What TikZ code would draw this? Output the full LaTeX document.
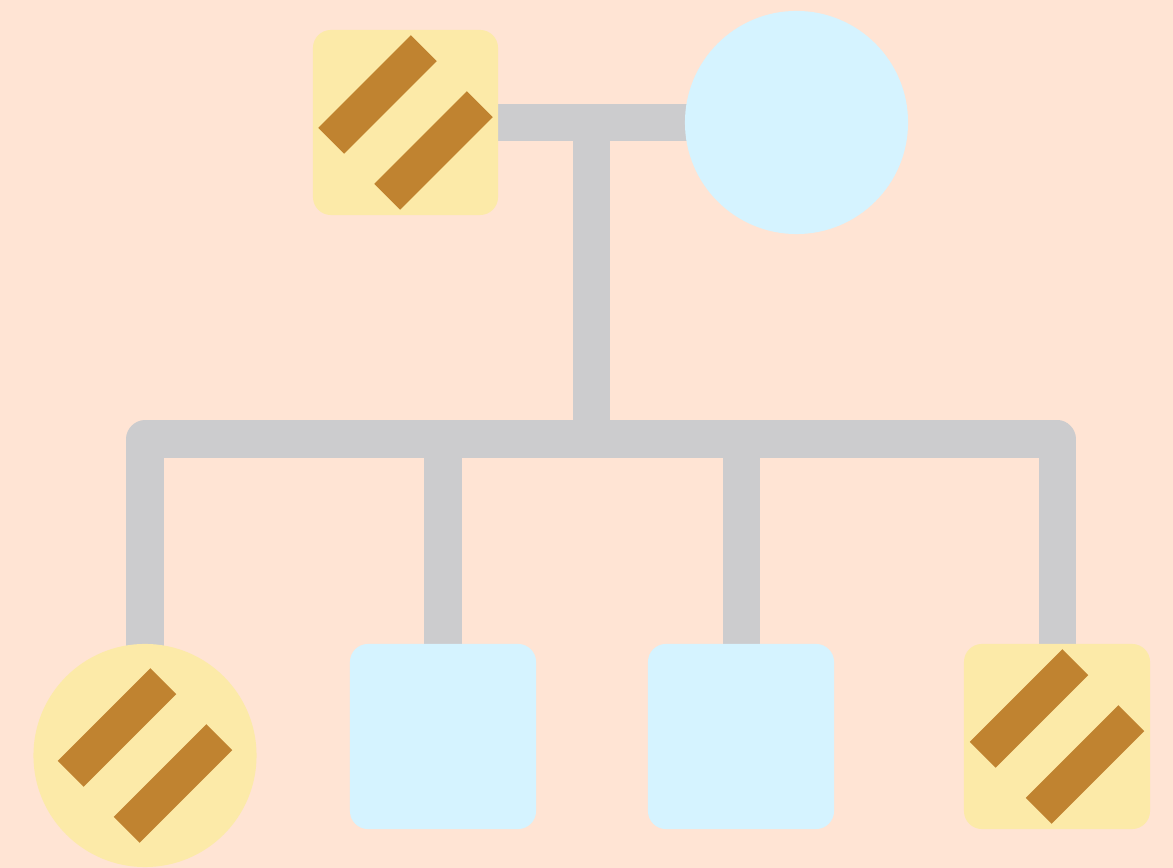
\documentclass[tikz,border=0pt]{standalone}
\usetikzlibrary{calc}
\pgfdeclarelayer{paper}
\pgfdeclarelayer{links}
\pgfsetlayers{paper,links,main}
\definecolor{paperc}{RGB}{255,228,212}
\definecolor{affectedc}{RGB}{252,234,168}
\definecolor{stripec}{RGB}{192,131,48}
\definecolor{plainc}{RGB}{213,243,255}
\definecolor{linkc}{RGB}{204,204,206}
\tikzset{
  male/.style={rectangle, rounded corners=1.8mm, minimum width=18.6mm, minimum height=18.5mm, inner sep=0pt},
  female/.style={circle, minimum size=22.3mm, inner sep=0pt},
  affected/.style={fill=affectedc},
  plain/.style={fill=plainc},
  stripe/.style={rectangle, fill=stripec, minimum width=13.1mm, minimum height=3.65mm, inner sep=0pt, rotate=45},
  link/.style={draw=linkc, line width=3.7mm, line cap=butt, line join=round},
}
\begin{document}
\begin{tikzpicture}[x=0.01cm, y=-0.01cm]
\useasboundingbox (0,0) rectangle (1173,868);
\begin{pgfonlayer}{paper}
  \fill[paperc] (0,0) rectangle (1173,868);
\end{pgfonlayer}

% parents
\node[male, affected, minimum width=18.5mm] (father) at (405.5,122.5) {};
\node[stripe] (fatherA) at ($(father.center)+(-28,-28)$) {};
\node[stripe] (fatherB) at ($(father.center)+(28,28)$) {};
\node[female, plain] (mother) at (796.5,122.5) {};

% children
\node[female, affected] (kid1) at (145,755.5) {};
\node[stripe] (kid1A) at ($(kid1.center)+(-28,-28)$) {};
\node[stripe] (kid1B) at ($(kid1.center)+(28,28)$) {};
\node[male, plain] (kid2) at (443,736.5) {};
\node[male, plain] (kid3) at (741,736.5) {};
\node[male, affected] (kid4) at (1057,736.5) {};
\node[stripe] (kid4A) at ($(kid4.center)+(-28,-28)$) {};
\node[stripe] (kid4B) at ($(kid4.center)+(28,28)$) {};

% mating line, descent and sibship line
\coordinate (mate) at ($(father.east)!0.5!(mother.west)$);
\coordinate (sib) at (mate |- 0,439);
\begin{pgfonlayer}{links}
  \draw[link] (father.center) -- (father.center -| mother.center);
  \draw[link] (mate) -- (sib);
  \draw[link] (kid1.center) |- (sib) -| (kid4.center);
  \draw[link] (kid2.center) -- (kid2.center |- sib);
  \draw[link] (kid3.center) -- (kid3.center |- sib);
\end{pgfonlayer}
\end{tikzpicture}
\end{document}
